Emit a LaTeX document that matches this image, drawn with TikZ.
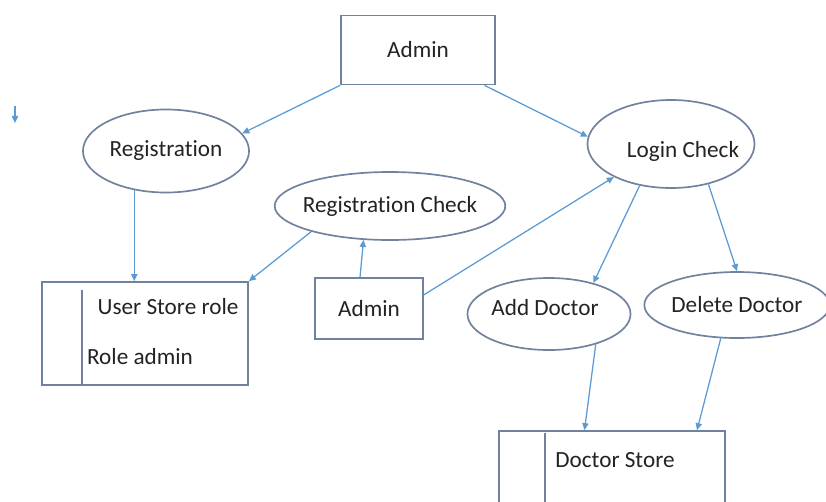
\documentclass[tikz,border=0pt]{standalone}
\usepackage{fontspec}
\setmainfont{Carlito}[Ligatures=NoCommon]
\usetikzlibrary{arrows.meta,shapes.geometric}
\definecolor{linkblue}{RGB}{91,155,213}
\definecolor{shapeline}{RGB}{112,130,158}
\definecolor{textgray}{RGB}{35,35,35}
\tikzset{
  shapebase/.style={draw=shapeline, line width=1.2pt, text=textgray, font=\fontsize{16.5}{19}\selectfont},
  kbox/.style={shapebase, rectangle, inner sep=0pt},
  kstore/.style={shapebase, rectangle, inner sep=0pt},
  bubble/.style={shapebase, ellipse, inner sep=0pt},
  plaintext/.style={text=textgray, font=\fontsize{16.5}{19}\selectfont, inner sep=0pt},
  flow/.style={-{Triangle[length=5pt, width=4.5pt]}, draw=linkblue, line width=0.9pt},
}

\begin{document}
\begin{tikzpicture}[x=0.025cm, y=-0.025cm]
    \useasboundingbox (0,0) rectangle (826,501);
    % process boxes
    \node[kbox, minimum width=3.85cm, minimum height=1.725cm] (admtop) at (418,50) {Admin};
    \node[kbox, minimum width=2.7cm, minimum height=1.525cm] (adm) at (369,308.5) {Admin};
    % processes
    \node[bubble, minimum width=4.15cm, minimum height=2.075cm] (reg) at (166,151) {Registration};
    \node[bubble, inner xsep=-4pt, minimum width=5.7cm, minimum height=1.7cm] (regchk) at (390,206) {Registration Check};
    \node[bubble, minimum width=4.175cm, minimum height=2.2cm] (login) at (671,144) {};
    \node[plaintext] (logintext) at (683,151) {Login Check};
    \node[bubble, minimum width=4.075cm, minimum height=1.8cm] (adddoc) at (549,314) {};
    \node[plaintext] (addtext) at (545,308) {Add Doctor};
    \node[bubble, minimum width=4.5cm, minimum height=1.65cm] (deldoc) at (737,305) {Delete Doctor};
    % data stores
    \node[kstore, minimum width=5.15cm, minimum height=2.575cm] (ustore) at (145,333.5) {};
    \draw[shapeline, line width=1.2pt] (82,290) -- (82,290 |- ustore.south);
    \node[plaintext] (ustorerole) at (168,307) {User Store role};
    \node[plaintext] (roleadmin) at (140,357) {Role admin};
    \node[kstore, minimum width=5.65cm, minimum height=1.85cm] (dstore) at (612,468) {};
    \draw[shapeline, line width=1.2pt] (545,433) -- (545,433 |- dstore.south);
    \node[plaintext] (dstorename) at (615,460) {Doctor Store};
    \coordinate (stray) at (15,106);
    \coordinate (strayend) at (15,123);
    % flows
    \draw[flow] (admtop.south west) -- (reg.13);
    \draw[flow] (admtop.-28) -- (login.175);
    \draw[flow] (reg.-129) -- (reg.-129 |- ustore.north);
    \draw[flow] (regchk.-162) -- (ustore.north east);
    \draw[flow] (adm.106) -- (regchk.-128);
    \draw[flow] (adm.14) -- (login.-150);
    \draw[flow] (login.-127) -- (adddoc.35);
    \draw[flow] (login.-47) -- (deldoc.north);
    \draw[flow] (adddoc.-33) -- (dstore.126);
    \draw[flow] (deldoc.-116) -- (dstore.24);
    \draw[flow] (stray) -- (strayend);
  \end{tikzpicture}
\end{document}
